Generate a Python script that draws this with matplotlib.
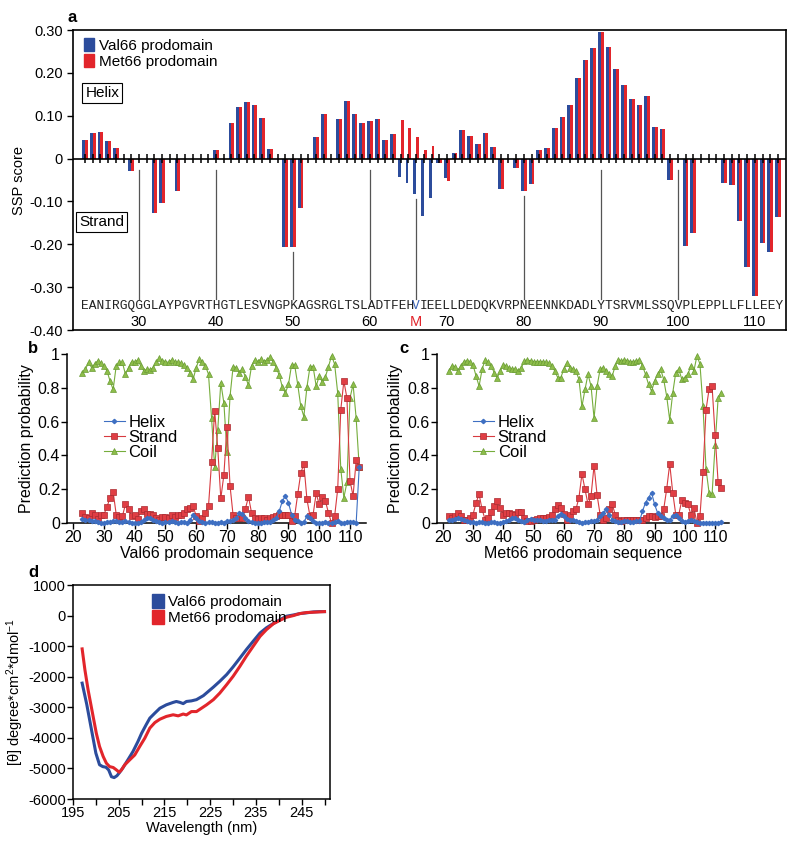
import matplotlib
matplotlib.use("Agg")
import matplotlib.pyplot as plt
from matplotlib.patches import Patch
import numpy as np

plt.rcParams['font.family'] = ['Liberation Sans', 'DejaVu Sans']
plt.rcParams['axes.unicode_minus'] = False
plt.rcParams['mathtext.default'] = 'regular'

BLUE = '#2c4c9c'
RED = '#e2252b'

# ---- panel a: SSP scores per residue ----
residues = list(range(23, 114))
sequence = "EANIRGQGGLAYPGVRTHGTLESVNGPKAGSRGLTSLADTFEHVIEELLDEDQKVRPNEENNKDADLYTSRVMLSSQVPLEPPLLFLLEEY"
ssp_val66 = [0.044, 0.059, 0.063, 0.041, 0.024, 0, -0.030, 0, 0, -0.128,
              -0.103, 0, -0.075, 0, 0, 0, 0, 0.019, 0, 0.082,
              0.121, 0.132, 0.124, 0.094, 0.023, 0, -0.206, -0.206, -0.115, 0,
              0.050, 0.103, 0, 0.092, 0.135, 0.103, 0.082, 0.088, 0.092, 0.044,
              0.058, -0.042, -0.056, -0.082, -0.133, -0.093, -0.011, -0.045, 0.013, 0.067,
              0.053, 0.033, 0.059, 0.028, -0.072, 0, -0.023, -0.075, -0.059, 0.019,
              0.024, 0.072, 0.097, 0.124, 0.187, 0.229, 0.259, 0.296, 0.260, 0.209,
              0.172, 0.139, 0.124, 0.147, 0.073, 0.070, -0.051, 0, -0.205, -0.174,
              0, 0, 0, -0.057, -0.062, -0.145, -0.253, -0.320, -0.198, -0.217,
              -0.136]
ssp_met66 = [0.044, 0.059, 0.063, 0.041, 0.024, 0, -0.030, 0, 0, -0.128,
             -0.103, 0, -0.075, 0, 0, 0, 0, 0.019, 0, 0.082,
             0.121, 0.132, 0.124, 0.094, 0.023, 0, -0.206, -0.206, -0.115, 0,
             0.050, 0.103, 0, 0.092, 0.135, 0.103, 0.082, 0.088, 0.092, 0.044,
             0.058, 0.089, 0.072, 0.051, 0.019, 0.030, -0.011, -0.052, 0.013, 0.067,
             0.053, 0.033, 0.059, 0.028, -0.072, 0, -0.023, -0.075, -0.059, 0.019,
             0.024, 0.072, 0.097, 0.124, 0.187, 0.229, 0.259, 0.296, 0.260, 0.209,
             0.172, 0.139, 0.124, 0.147, 0.073, 0.070, -0.051, 0, -0.205, -0.174,
             0, 0, 0, -0.057, -0.062, -0.145, -0.253, -0.320, -0.198, -0.217,
             -0.136]
marked = [30, 40, 50, 60, 66, 80, 90, 100]
numbered = [30, 40, 50, 60, 70, 80, 90, 100, 110]
variant = 66

# ---- panels b, c: secondary structure prediction ----
res_val = list(range(23, 114))
helix_val = [0.025, 0.02, 0.015, 0.01, 0.01, 0.005, 0.0, 0.0, 0.005, 0.005,
             0.01, 0.01, 0.005, 0.005, 0.01, 0.005, 0.0, 0.0, 0.0, 0.005,
             0.02, 0.03, 0.03, 0.02, 0.01, 0.005, 0.0, 0.005, 0.005, 0.01,
             0.005, 0.0, 0.005, 0.005, 0.0, 0.02, 0.045, 0.03, 0.01, 0.005,
             0.0, 0.005, 0.005, 0.0, 0.0, 0.005, 0.0, 0.01, 0.01, 0.015,
             0.03, 0.06, 0.055, 0.03, 0.01, 0.005, 0.0, 0.0, 0.0, 0.005,
             0.005, 0.005, 0.02, 0.03, 0.07, 0.13, 0.16, 0.12, 0.05, 0.02,
             0.01, 0.0, 0.005, 0.04, 0.03, 0.01, 0.0, 0.0, 0.0, 0.005,
             0.0, 0.0, 0.005, 0.01, 0.0, 0.0, 0.005, 0.005, 0.005, 0.0,
             0.33]
strand_val = [0.06, 0.035, 0.03, 0.06, 0.045, 0.025, 0.045, 0.05, 0.095, 0.15,
              0.185, 0.05, 0.035, 0.04, 0.11, 0.08, 0.04, 0.045, 0.025, 0.07,
              0.085, 0.055, 0.055, 0.05, 0.03, 0.02, 0.035, 0.035, 0.03, 0.045,
              0.035, 0.05, 0.045, 0.06, 0.08, 0.09, 0.10, 0.04, 0.01, 0.03,
              0.06, 0.10, 0.36, 0.665, 0.445, 0.145, 0.285, 0.57, 0.22, 0.045,
              0.03, 0.03, 0.03, 0.085, 0.155, 0.06, 0.03, 0.025, 0.03, 0.03,
              0.02, 0.03, 0.035, 0.04, 0.045, 0.05, 0.05, 0.045, 0.01, 0.04,
              0.17, 0.295, 0.35, 0.14, 0.04, 0.05, 0.175, 0.11, 0.155, 0.13,
              0.06, 0.0, 0.04, 0.2, 0.67, 0.84, 0.74, 0.25, 0.16, 0.37,
              0.33]
coil_val = [0.89, 0.91, 0.95, 0.92, 0.94, 0.96, 0.945, 0.93, 0.90, 0.84,
            0.79, 0.93, 0.95, 0.95, 0.88, 0.92, 0.955, 0.95, 0.965, 0.93,
            0.90, 0.91, 0.905, 0.92, 0.95, 0.975, 0.96, 0.955, 0.95, 0.965,
            0.955, 0.95, 0.945, 0.935, 0.92, 0.89, 0.85, 0.92, 0.97, 0.955,
            0.93, 0.88, 0.62, 0.33, 0.55, 0.83, 0.71, 0.42, 0.75, 0.925,
            0.92, 0.89, 0.91, 0.865, 0.815, 0.93, 0.965, 0.955, 0.97, 0.955,
            0.965, 0.98, 0.955, 0.92, 0.875, 0.805, 0.77, 0.82, 0.935, 0.935,
            0.82, 0.69, 0.63, 0.805, 0.925, 0.925, 0.81, 0.87, 0.835, 0.865,
            0.925, 0.99, 0.94, 0.77, 0.32, 0.15, 0.24, 0.74, 0.82, 0.62,
            0.33]

res_met = list(range(22, 113))
helix_met = [0.02, 0.02, 0.025, 0.03, 0.025, 0.015, 0.01, 0.005, 0.005, 0.0,
             0.005, 0.005, 0.0, 0.0, 0.005, 0.005, 0.0, 0.0, 0.005, 0.01,
             0.02, 0.03, 0.03, 0.02, 0.01, 0.005, 0.02, 0.025, 0.02, 0.015,
             0.015, 0.01, 0.01, 0.015, 0.02, 0.02, 0.04, 0.055, 0.04, 0.025,
             0.02, 0.015, 0.01, 0.005, 0.0, 0.005, 0.005, 0.01, 0.01, 0.02,
             0.04, 0.06, 0.08, 0.05, 0.02, 0.01, 0.005, 0.005, 0.01, 0.01,
             0.005, 0.005, 0.01, 0.01, 0.07, 0.12, 0.15, 0.18, 0.11, 0.06,
             0.04, 0.03, 0.02, 0.02, 0.04, 0.05, 0.03, 0.01, 0.005, 0.01,
             0.02, 0.01, 0.005, 0.0, 0.0, 0.0, 0.0, 0.0, 0.0, 0.0,
             0.005]
strand_met = [0.04, 0.03, 0.04, 0.06, 0.04, 0.02, 0.02, 0.03, 0.05, 0.12,
              0.17, 0.08, 0.02, 0.03, 0.065, 0.10, 0.13, 0.09, 0.05, 0.06,
              0.06, 0.055, 0.045, 0.065, 0.065, 0.03, 0.01, 0.01, 0.02, 0.025,
              0.03, 0.03, 0.03, 0.035, 0.05, 0.08, 0.105, 0.09, 0.055, 0.02,
              0.05, 0.07, 0.08, 0.15, 0.29, 0.20, 0.11, 0.16, 0.34, 0.165,
              0.05, 0.02, 0.03, 0.08, 0.11, 0.05, 0.015, 0.01, 0.02, 0.02,
              0.015, 0.02, 0.015, 0.015, 0.02, 0.03, 0.04, 0.04, 0.035, 0.04,
              0.04, 0.08, 0.20, 0.35, 0.18, 0.05, 0.05, 0.135, 0.12, 0.11,
              0.05, 0.09, 0.0, 0.04, 0.30, 0.67, 0.79, 0.81, 0.52, 0.24,
              0.21]
coil_met = [0.90, 0.93, 0.925, 0.90, 0.93, 0.955, 0.96, 0.955, 0.935, 0.87,
            0.81, 0.91, 0.965, 0.95, 0.93, 0.89, 0.86, 0.90, 0.935, 0.93,
            0.915, 0.91, 0.91, 0.90, 0.92, 0.96, 0.965, 0.96, 0.955, 0.955,
            0.955, 0.955, 0.95, 0.945, 0.93, 0.90, 0.86, 0.86, 0.91, 0.945,
            0.92, 0.91, 0.90, 0.85, 0.69, 0.79, 0.88, 0.81, 0.62, 0.81,
            0.91, 0.92, 0.90, 0.88, 0.87, 0.93, 0.965, 0.96, 0.965, 0.96,
            0.955, 0.955, 0.96, 0.965, 0.93, 0.88, 0.82, 0.78, 0.84, 0.88,
            0.91, 0.85, 0.75, 0.61, 0.77, 0.89, 0.91, 0.85, 0.86, 0.88,
            0.93, 0.90, 0.99, 0.94, 0.69, 0.32, 0.18, 0.17, 0.46, 0.74,
            0.77]

# ---- panel d: CD spectra ----
wl_val = [197, 198, 199, 200, 200.8, 201.5, 202.2, 202.8, 203.4, 204, 204.6, 205.2, 206, 207,
          208.1, 209.2, 210, 211, 211.8, 212.9, 214, 215.4, 216.9, 217.6, 218.4, 219.1,
          219.8, 220.9, 222, 223.5, 224.6, 225.7, 227.1, 228.6, 230, 231.5, 232.9,
          234.4, 235.9, 237.3, 238.8, 240.3, 241.7, 243.2, 244.6, 246.1, 247.6, 249, 250]
cd_val = [-2210, -2900, -3700, -4500, -4880, -4940, -4960, -5050, -5270, -5300, -5240,
          -5130, -4960, -4720, -4450, -4120, -3850, -3570, -3355, -3190, -3030, -2920,
          -2840, -2810, -2840, -2880, -2810, -2790, -2750, -2620, -2480, -2340, -2150,
          -1930, -1680, -1390, -1115, -840, -570, -400, -260, -130, -20, 20, 65, 90,
          120, 130, 130]
wl_met = [197, 197.6, 198.3, 199.4, 200.1, 200.8, 201.6, 202.3, 203, 203.8, 204.5,
          205.1, 205.6, 206.3, 207.4, 208.5, 209.6, 210.7, 211.8, 212.9, 214, 215.4,
          216.9, 218, 219.1, 219.8, 220.9, 222, 223.1, 224.2, 225.7, 227.1, 228.6, 230,
          231.5, 232.9, 234.4, 235.9, 237.3, 238.8, 240.3, 241.7, 243.2, 244.6, 246.1,
          247.6, 250]
cd_met = [-1090, -1770, -2430, -3300, -3850, -4280, -4610, -4830, -4940, -4970, -5050,
          -5125, -5050, -4885, -4720, -4560, -4280, -4010, -3680, -3500, -3390, -3300,
          -3245, -3280, -3220, -3250, -3140, -3140, -3030, -2920, -2750, -2535, -2260,
          -1990, -1660, -1330, -1005, -680, -460, -270, -150, -55, 0, 65, 100, 110, 130]

fig = plt.figure(figsize=(8.0, 8.49), dpi=100)

# ================= a =================
ax = fig.add_axes([0.09125, 0.6113, 0.89125, 0.35336])
w = 0.37
x = np.array(residues)
ax.bar(x - w / 2, ssp_val66, width=w, color=BLUE, linewidth=0)
ax.bar(x + w / 2, ssp_met66, width=w, color=RED, linewidth=0)
ax.axhline(0, color='black', lw=1.2, zorder=3)
ax.vlines(x, -0.010, 0.010, color='black', lw=1.1, zorder=3)
for r in marked:
    i = residues.index(r)
    low = min(ssp_val66[i], ssp_met66[i], -0.013) - 0.013
    ax.plot([r, r], [low, -0.328], color='#555555', lw=0.9)

# sequence in monospace: one character cell per residue (font size from cell width)
xlo, xhi = 21.43, 114.05
ax.set_xlim(xlo, xhi)
cell_px = fig.get_figwidth() * fig.dpi * 0.89125 / (xhi - xlo)
seq_pt = cell_px / 0.6 * 72 / fig.dpi
k = residues.index(variant)
seq_kw = dict(family='Liberation Mono', fontsize=seq_pt, va='center', color='#222222')
ax.text(residues[0] - 0.5, -0.345, sequence[:k], ha='left', **seq_kw)
ax.text(variant + 0.5, -0.345, sequence[k + 1:], ha='left', **seq_kw)
ax.text(variant, -0.345, sequence[k], family='Liberation Mono', fontsize=seq_pt,
        ha='center', va='center', color='#3a64b8')
for n in numbered:
    ax.text(n, -0.382, str(n), fontsize=10.5, ha='center', va='center')
ax.text(variant, -0.382, 'M', fontsize=10.5, ha='center', va='center', color=RED)

ax.set_ylim(-0.40, 0.30)
ax.set_xticks([])
yt = [0.30, 0.20, 0.10, 0, -0.10, -0.20, -0.30, -0.40]
ax.set_yticks(yt)
ax.set_yticklabels(['0.30', '0.20', '0.10', '0', '-0.10', '-0.20', '-0.30', '-0.40'], fontsize=10.5)
ax.tick_params(axis='y', direction='out', length=4, width=1)
for s in ax.spines.values():
    s.set_linewidth(1.2)
ax.set_ylabel('SSP score', fontsize=10.5, labelpad=2)
ax.legend(handles=[Patch(color=BLUE, label='Val66 prodomain'),
                   Patch(color=RED, label='Met66 prodomain')],
          loc='upper left', bbox_to_anchor=(0.0, 1.01), frameon=False, fontsize=11,
          handlelength=0.7, handleheight=1.0, handletextpad=0.3, labelspacing=0.05,
          borderaxespad=0.3)
box = dict(boxstyle='square,pad=0.2', fc='white', ec='black', lw=0.8)
ax.text(0.041, 0.79, 'Helix', transform=ax.transAxes, fontsize=11, ha='center', va='center', bbox=box)
ax.text(0.040, 0.36, 'Strand', transform=ax.transAxes, fontsize=11, ha='center', va='center', bbox=box)
fig.text(0.084, 0.988, 'a', fontsize=12, fontweight='bold', ha='left', va='top')

# ================= b, c =================
def ssp_panel(rect, res, helix, strand, coil, xlabel, xmax, letter, lx):
    ax = fig.add_axes(rect)
    ax.plot(res, coil, color='#76ad3c', lw=0.8, marker='^', ms=4.5, mfc='#8dbd4a',
            mec='#6a9c34', mew=0.5, clip_on=False, label='Coil', zorder=3)
    ax.plot(res, strand, color='#d83a40', lw=0.8, marker='s', ms=4.0, mfc='#e03e44',
            mec='#a92a30', mew=0.5, clip_on=False, label='Strand', zorder=4)
    ax.plot(res, helix, color='#3e6fc2', lw=0.8, marker='D', ms=2.2, mfc='#3e6fc2',
            mec='#3e6fc2', clip_on=False, label='Helix', zorder=5)
    ax.set_xlim(18, xmax)
    ax.set_ylim(0, 1)
    ax.set_xticks(range(20, 111, 10))
    ax.set_yticks([0, 0.2, 0.4, 0.6, 0.8, 1])
    ax.set_yticklabels(['0', '0.2', '0.4', '0.6', '0.8', '1'])
    ax.tick_params(labelsize=11.5, direction='out', length=4, width=1, pad=1)
    ax.spines['top'].set_visible(False)
    ax.spines['right'].set_visible(False)
    ax.spines['left'].set_linewidth(1.1)
    ax.spines['bottom'].set_linewidth(1.1)
    ax.set_ylabel('Prediction probability', fontsize=11.5, labelpad=3)
    ax.set_xlabel(xlabel, fontsize=11.5, labelpad=1)
    h, l = ax.get_legend_handles_labels()
    ax.legend(h[::-1], l[::-1], loc='upper left', bbox_to_anchor=(0.1, 0.68),
              frameon=False, fontsize=12, handlelength=1.3, handletextpad=0.2,
              labelspacing=0.0, borderaxespad=0)
    fig.text(lx, 0.598, letter, fontsize=12, fontweight='bold', ha='left', va='top')
    return ax

ssp_panel([0.08375, 0.38398, 0.37375, 0.19906], res_val, helix_val, strand_val,
          coil_val, 'Val66 prodomain sequence', 115.2, 'b', 0.035)
ssp_panel([0.5459, 0.38398, 0.36575, 0.19906], res_met, helix_met, strand_met,
          coil_met, 'Met66 prodomain sequence', 114.7, 'c', 0.499)

# ================= d =================
ax = fig.add_axes([0.09125, 0.05889, 0.32125, 0.25206])
ax.plot(wl_val, cd_val, color=BLUE, lw=2.2, label='Val66 prodomain')
ax.plot(wl_met, cd_met, color=RED, lw=2.2, label='Met66 prodomain')
ax.set_xlim(195, 251.2)
ax.set_ylim(-6000, 1000)
ax.set_xticks(range(195, 251, 5))
ax.set_xticklabels([str(t) if (t - 195) % 10 == 0 else '' for t in range(195, 251, 5)])
ax.set_yticks(range(-6000, 1001, 1000))
ax.set_yticklabels([str(t) for t in range(-6000, 1001, 1000)])
ax.tick_params(labelsize=10.5, direction='out', length=4, width=1, pad=1)
for s in ax.spines.values():
    s.set_linewidth(1.1)
ax.set_xlabel('Wavelength (nm)', fontsize=10.5, labelpad=1)
ax.set_ylabel('[θ] degree*cm$^{2}$*dmol$^{-1}$', fontsize=10.5, labelpad=2)
ax.legend(handles=[Patch(color=BLUE, label='Val66 prodomain'),
                   Patch(color=RED, label='Met66 prodomain')],
          loc='upper left', bbox_to_anchor=(0.27, 1.0), frameon=False, fontsize=11,
          handlelength=0.8, handleheight=1.0, handletextpad=0.3, labelspacing=0.05,
          borderaxespad=0.2)
fig.text(0.035, 0.335, 'd', fontsize=12, fontweight='bold', ha='left', va='top')

fig.savefig('out.png', dpi=100, facecolor='white')
